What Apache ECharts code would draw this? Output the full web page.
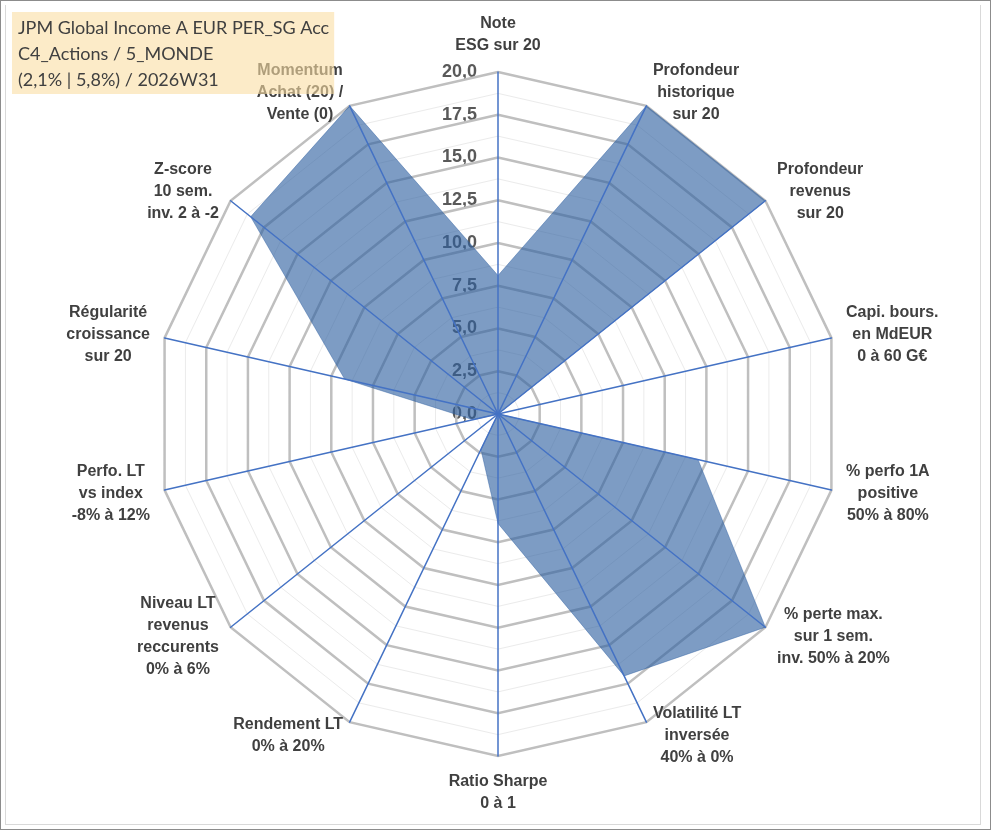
<!DOCTYPE html>
<html>
<head>
<meta charset="utf-8">
<title>JPM Global Income A EUR PER_SG Acc</title>
<script src="https://cdn.jsdelivr.net/npm/echarts@6.0.0/dist/echarts.min.js"></script>
<style>
  html, body { margin: 0; padding: 0; background: #fff; }
  #chart { position: absolute; left: 0; top: 0; width: 991px; height: 830px; }
  #frame { position: absolute; left: 0; top: 0; width: 989px; height: 828px; border: 1px solid #8c8c8c; pointer-events: none; }
  #inner { position: absolute; left: 5px; top: 5px; width: 974px; height: 819px; border: 1px solid #d9d9d9; border-top: none; pointer-events: none; }
</style>
</head>
<body>
<div id="chart"></div>
<div id="frame"></div>
<div id="inner"></div>
<script>
'use strict';
/* radar scores, axes listed clockwise from the top */

var axisNames = [
  'Note\nESG sur 20',
  'Profondeur\nhistorique\nsur 20',
  'Profondeur\nrevenus\nsur 20',
  'Capi. bours.\nen MdEUR\n0 à 60 G€',
  '% perfo 1A\npositive\n50% à 80%',
  '% perte max.\nsur 1 sem.\ninv. 50% à 20%',
  'Volatilité LT\ninversée\n40% à 0%',
  'Ratio Sharpe\n0 à 1',
  'Rendement LT\n0% à 20%',
  'Niveau LT\nrevenus\nreccurents\n0% à 6%',
  'Perfo. LT\nvs index\n-8% à 12%',
  'Régularité\ncroissance\nsur 20',
  'Z-score\n10 sem.\ninv. 2 à -2',
  'Momentum\nAchat (20) /\nVente (0)'
];
var scores = [8.1, 20, 20, 0, 12, 20, 17, 6.4, 2.3, 0, 1.5, 9.2, 18.5, 20];
var scoreMin = 0;
var scoreMax = 20;
var scoreStep = 2.5;
var titleLines = ['JPM Global Income A EUR PER_SG Acc', 'C4_Actions / 5_MONDE', '(2,1% | 5,8%) / 2026W31'];

var CX = 498, CY = 414, R = 342;

// echarts lays indicators out counter-clockwise, the picture goes clockwise
var order = [0];
for (var i = axisNames.length - 1; i > 0; i--) order.push(i);

var indicators = order.map(function(k) {
  return { name: axisNames[k], min: scoreMin, max: scoreMax };
});
var seriesValues = order.map(function(k) { return scores[k]; });

function radarLayer(extra) {
  var base = {
    indicator: indicators,
    center: [CX, CY],
    radius: R,
    startAngle: 90,
    shape: 'polygon',
    axisName: { show: false },
    axisLine: { show: false },
    axisTick: { show: false },
    axisLabel: { show: false },
    splitArea: { show: false },
    splitLine: { show: false }
  };
  for (var key in extra) base[key] = extra[key];
  return base;
}

var nameStyle = {
  align: 'center',
  color: '#404040',
  fontSize: 16,
  fontWeight: 'bold',
  fontFamily: 'Liberation Sans',
  lineHeight: 22
};

var chart = echarts.init(document.getElementById('chart'));
var option = {
  backgroundColor: '#fff',
  animation: false,
  title: {
    text: titleLines.join('\n'),
    left: 12,
    top: 12,
    padding: [3, 5, 1, 6],
    backgroundColor: 'rgba(250,222,163,0.6)',
    z: 10,
    textStyle: {
      fontFamily: 'Lato',
      fontSize: 18,
      fontWeight: 'normal',
      color: '#404040',
      lineHeight: 26
    }
  },
  grid: { left: CX, top: CY - R, width: 1, height: R },
  xAxis: { type: 'value', show: false },
  yAxis: {
    type: 'value',
    min: scoreMin,
    max: scoreMax,
    interval: scoreStep,
    axisLine: { show: false },
    axisTick: { show: false },
    splitLine: { show: false },
    axisLabel: {
      margin: 21,
      showMinLabel: true,
      showMaxLabel: true,
      color: '#595959',
      fontSize: 18,
      fontWeight: 'bold',
      fontFamily: 'Liberation Sans',
      formatter: function(v) { return v.toFixed(1).replace('.', ','); }
    }
  },
  radar: [
    // minor rings
    radarLayer({
      z: 0,
      splitNumber: 16,
      splitLine: { show: true, lineStyle: { color: '#ebebeb', width: 1 } }
    }),
    // major rings + names
    radarLayer({
      z: 1,
      splitNumber: 8,
      axisNameGap: 15,
      splitLine: { show: true, lineStyle: { color: '#bfbfbf', width: 2.5 } },
      axisName: {
        show: true,
        color: '#404040',
        fontSize: 16,
        fontWeight: 'bold',
        fontFamily: 'Liberation Sans',
        lineHeight: 22,
        formatter: function(name) {
          return name.split('\n').map(function(s) { return '{c|' + s + '}'; }).join('\n');
        },
        rich: { c: nameStyle }
      }
    }),
    // blue spokes above the fill
    radarLayer({
      z: 3,
      splitNumber: 8,
      axisLine: { show: true, lineStyle: { color: '#4472c4', width: 1.5 } }
    })
  ],
  series: [{
    type: 'radar',
    radarIndex: 1,
    z: 2,
    symbol: 'none',
    lineStyle: { color: 'rgba(45,95,160,0.55)', width: 0.8 },
    areaStyle: {
      color: 'rgba(45,95,160,0.62)',
      opacity: 1
    },
    data: [{ name: 'Score', value: seriesValues }]
  }]
};
chart.setOption(option);
</script>
</body>
</html>
